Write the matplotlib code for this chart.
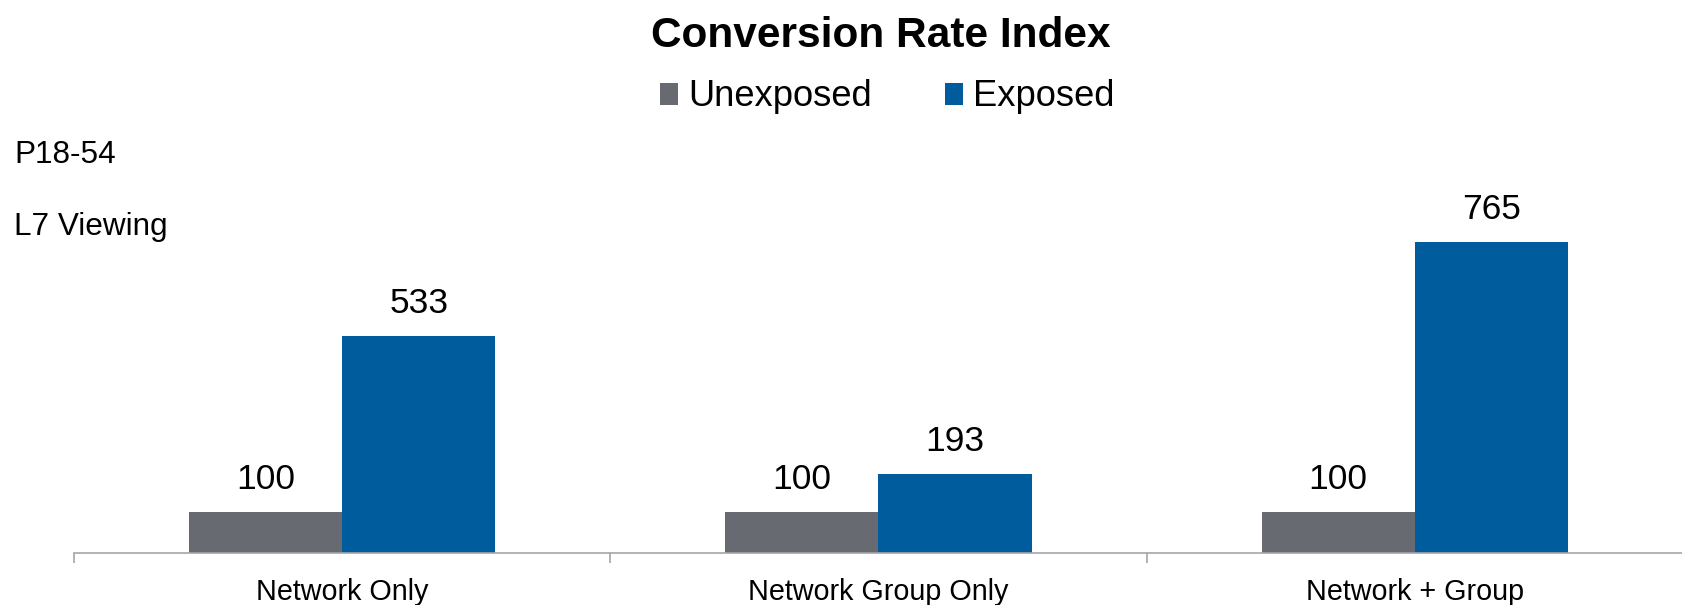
"""Conversion Rate Index chart: unexposed vs exposed, by campaign type."""

import matplotlib

matplotlib.use("Agg")
import matplotlib.pyplot as plt
import numpy as np

plt.rcParams["font.family"] = ["Liberation Sans", "DejaVu Sans"]

categories = ["Network Only", "Network Group Only", "Network + Group"]
unexposed = [100, 100, 100]
exposed = [533, 193, 765]
series_names = ["Unexposed", "Exposed"]

GRAY = "#676A71"
BLUE = "#005C9C"
AXIS_GRAY = "#A6A6A6"

W, H, DPI = 1683, 605, 100


def main() -> None:
    fig = plt.figure(figsize=(W / DPI, H / DPI), dpi=DPI)
    # axes: left edge at the first boundary tick, baseline ~553px from top
    ax = fig.add_axes([74 / W, 52 / H, 1 - 74 / W, 453 / H])

    x = np.arange(len(categories))
    bw = 0.2856
    b1 = ax.bar(x - bw / 2, unexposed, bw, color=GRAY, label=series_names[0])
    b2 = ax.bar(x + bw / 2, exposed, bw, color=BLUE, label=series_names[1])

    for bars in (b1, b2):
        for rect in bars:
            ax.annotate(
                f"{rect.get_height():.0f}",
                xy=(rect.get_x() + rect.get_width() / 2, rect.get_height()),
                xytext=(0, 16.6),
                textcoords="offset points",
                ha="center",
                va="baseline",
                fontsize=25.5,
            )

    # the axis runs off the right edge of the figure, past the last group
    ax.set_xlim(-0.5, 2.974 - 0.5)
    ax.set_ylim(0, 1113)

    for side in ("left", "right", "top"):
        ax.spines[side].set_visible(False)
    ax.spines["bottom"].set_color(AXIS_GRAY)
    ax.spines["bottom"].set_linewidth(1.2)
    ax.set_yticks([])

    # boundary ticks between groups, labels set separately
    ax.set_xticks(np.arange(-0.5, len(categories), 1.0))
    ax.set_xticklabels([])
    ax.tick_params(axis="x", direction="out", length=7, width=1.2, color=AXIS_GRAY)

    for i, name in enumerate(categories):
        ax.annotate(
            name,
            xy=(i, 0),
            xycoords=("data", "axes fraction"),
            xytext=(0, -33.8),
            textcoords="offset points",
            ha="center",
            va="baseline",
            fontsize=20.7,
            annotation_clip=False,
        )

    fig.text(881 / W, 1 - 47 / H, "Conversion Rate Index", ha="center",
             va="baseline", fontsize=30.5, fontweight="bold")

    fig.legend(
        handles=[b1, b2],
        loc="center",
        bbox_to_anchor=(887 / W, 1 - 97 / H),
        ncol=2,
        frameon=False,
        fontsize=26.2,
        handlelength=0.5,
        handleheight=0.55,
        handletextpad=0.28,
        columnspacing=2.0,
        borderpad=0,
        borderaxespad=0,
    )

    fig.text(14 / W, 1 - 163 / H, "P18-54", ha="left", va="baseline", fontsize=22.7)
    fig.text(14 / W, 1 - 235 / H, "L7 Viewing", ha="left", va="baseline", fontsize=22.7)

    fig.savefig("out.png", dpi=DPI)


if __name__ == "__main__":
    main()
